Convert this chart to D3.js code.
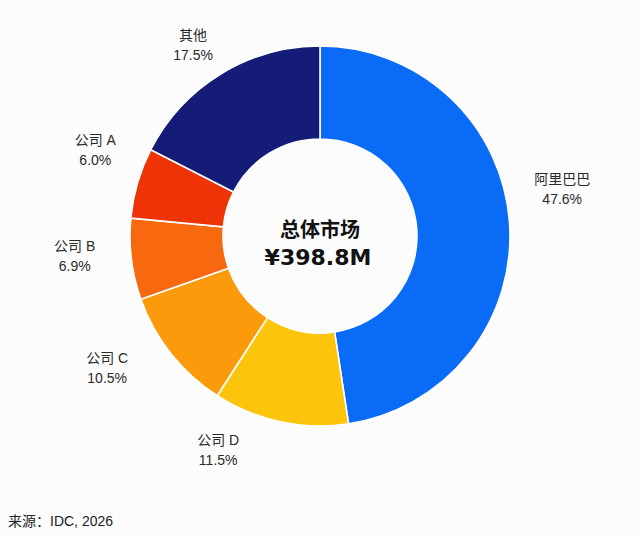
<!DOCTYPE html>
<html>
<head>
<meta charset="utf-8">
<script src="https://cdn.jsdelivr.net/npm/d3@7"></script>
<style>
  html, body { margin: 0; padding: 0; background: #fcfcfd; }
  svg { display: block; font-family: "Liberation Sans", "Noto Sans CJK SC", sans-serif; }
</style>
</head>
<body>
<div id="chart"></div>
<script>
// market share, clockwise from 12 o'clock
const names = ["阿里巴巴", "公司 D", "公司 C", "公司 B", "公司 A", "其他"];
const shares = [47.6, 11.5, 10.5, 6.9, 6.0, 17.5];
const colors = ["#0a6cf6", "#fcc40a", "#fb9a0b", "#f8680e", "#ee3306", "#141c78"];

const centerTitle = "总体市场";
const centerValue = "¥398.8M";
const sourceNote = "来源：IDC, 2026";

// label placement tweaks (degrees / px) so text sits like the original
const labelTurn = [-7, 13.5, 6.7, 2.6, 5, -2];
const labelDist = [247, 236, 250, 246, 241, 230];

const width = 640,
  height = 536;
const cx = 320,
  cy = 236;
const outerR = 190,
  innerR = 97;

const svg = d3
  .select("#chart")
  .append("svg")
  .attr("width", width)
  .attr("height", height);

svg.append("rect").attr("width", width).attr("height", height).attr("fill", "#fcfcfd");

const data = names.map((n, i) => ({ name: n, value: shares[i], color: colors[i], i: i }));

const pie = d3
  .pie()
  .sort(null)
  .value((d) => d.value);

const arc = d3.arc().innerRadius(innerR).outerRadius(outerR);

const g = svg.append("g").attr("transform", `translate(${cx},${cy})`);

g.selectAll("path")
  .data(pie(data))
  .join("path")
  .attr("d", arc)
  .attr("fill", (d) => d.data.color)
  .attr("stroke", "#ffffff")
  .attr("stroke-width", 1.6);

// outside labels
const labels = g
  .append("g")
  .selectAll("g")
  .data(pie(data))
  .join("g")
  .attr("transform", (d) => {
    const a = (d.startAngle + d.endAngle) / 2 + (labelTurn[d.data.i] * Math.PI) / 180;
    const r = labelDist[d.data.i];
    return `translate(${r * Math.sin(a)},${-r * Math.cos(a)})`;
  })
  .attr("text-anchor", "middle")
  .attr("fill", "#2a2a2a")
  .attr("font-size", 14);

labels
  .append("text")
  .attr("y", -4)
  .text((d) => d.data.name);

labels
  .append("text")
  .attr("y", 16)
  .text((d) => d.data.value.toFixed(1) + "%");

// center
g.append("text")
  .attr("text-anchor", "middle")
  .attr("y", 1)
  .attr("font-size", 20)
  .attr("font-weight", "bold")
  .attr("font-family", "'Noto Sans CJK SC', sans-serif")
  .attr("fill", "#111")
  .text(centerTitle);

g.append("text")
  .attr("text-anchor", "middle")
  .attr("x", -2)
  .attr("y", 29)
  .attr("font-size", 22)
  .attr("font-weight", "bold")
  .attr("font-family", "'DejaVu Sans', sans-serif")
  .attr("fill", "#111")
  .text(centerValue);

svg
  .append("text")
  .attr("x", 8)
  .attr("y", 526)
  .attr("font-size", 14)
  .attr("fill", "#222")
  .text(sourceNote);
</script>
</body>
</html>
